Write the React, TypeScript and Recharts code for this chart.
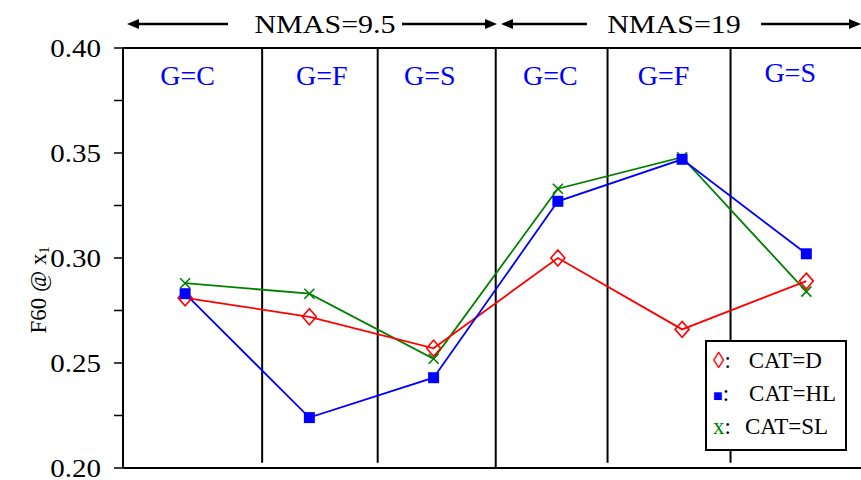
import { ComposedChart, Legend, Line, ReferenceDot, ReferenceLine, XAxis, YAxis } from 'recharts'

const GRADATIONS = ['G=C', 'G=F', 'G=S', 'G=C', 'G=F', 'G=S']
const CAT_D = [0.281, 0.272, 0.257, 0.3, 0.266, 0.289]
const CAT_HL = [0.283, 0.224, 0.243, 0.327, 0.347, 0.302]
const CAT_SL = [0.288, 0.283, 0.252, 0.333, 0.348, 0.284]
const Y_TICKS = [0.2, 0.225, 0.25, 0.275, 0.3, 0.325, 0.35, 0.375, 0.4]
const NMAS_GROUPS = ['NMAS=9.5', 'NMAS=19']

// x positions in category units (each category is one unit wide)
const DIVIDERS = [1.12, 2.05, 3.0, 3.9, 4.89]
const GRADATION_LABEL_X = [0.52, 1.6, 2.47, 3.44, 4.35, 5.37]

const SERIF = 'Liberation Serif'
const WIDTH = 861
const HEIGHT = 480
const LEFT = 123
const TOP = 48

const data = GRADATIONS.map((g, i) => ({
  x: i + 0.5,
  gradation: g,
  d: CAT_D[i],
  hl: CAT_HL[i],
  sl: CAT_SL[i],
}))

const DiamondDot = ({ cx, cy }: any) => (
  <path d={`M${cx},${cy - 8} L${cx + 7},${cy} L${cx},${cy + 8} L${cx - 7},${cy} Z`} fill="none" stroke="#ff0000" strokeWidth={1.6} />
)

const SquareDot = ({ cx, cy }: any) => <rect x={cx - 5.5} y={cy - 5.5} width={11} height={11} fill="#0000ff" />

const CrossDot = ({ cx, cy }: any) => (
  <g stroke="#008000" strokeWidth={1.6}>
    <line x1={cx - 5} y1={cy - 5} x2={cx + 5} y2={cy + 5} />
    <line x1={cx - 5} y1={cy + 5} x2={cx + 5} y2={cy - 5} />
  </g>
)

// numbers are a touch wide compared with the plain serif face
const YTick = ({ x, y, payload }: any) => {
  const v = payload.value
  const major = Math.abs(Math.round(v * 20) - v * 20) < 1e-6
  if (!major) return null
  return (
    <text transform={`translate(${x},${y}) scale(1.16,1)`} textAnchor="end" dy="0.35em" fontSize={25} fontFamily={SERIF} fill="#000">
      {v.toFixed(2)}
    </text>
  )
}

function Arrow({ from, to, y }: { from: number; to: number; y: number }) {
  const dir = to > from ? 1 : -1
  return (
    <g>
      <line x1={from} y1={y} x2={to - dir * 10} y2={y} stroke="#000" strokeWidth={2.5} />
      <path d={`M${to},${y} L${to - dir * 12},${y - 5} L${to - dir * 12},${y + 5} Z`} fill="#000" />
    </g>
  )
}

function Header() {
  return (
    <svg width={WIDTH} height={HEIGHT} style={{ position: 'absolute', left: 0, top: 0, pointerEvents: 'none' }}>
      <Arrow from={228} to={127} y={24} />
      <Arrow from={402} to={497} y={24} />
      <Arrow from={587} to={501} y={24} />
      <Arrow from={761} to={861} y={24} />
      <text transform="translate(325,33) scale(1.2,1)" textAnchor="middle" fontSize={25} fontFamily={SERIF} fill="#000">
        {NMAS_GROUPS[0]}
      </text>
      <text transform="translate(674,33) scale(1.2,1)" textAnchor="middle" fontSize={25} fontFamily={SERIF} fill="#000">
        {NMAS_GROUPS[1]}
      </text>
      <text transform="translate(46,290) rotate(-90)" textAnchor="middle" fontSize={23} fontFamily={SERIF} fill="#000">
        F60 @ x
        <tspan fontSize={14} dy={3}>
          1
        </tspan>
      </text>
    </svg>
  )
}

const legendRows = [
  { symbol: '◊', color: '#ff0000', label: 'CAT=D', gap: 24 },
  { symbol: '■', color: '#0000ff', label: 'CAT=HL', gap: 26 },
  { symbol: 'x', color: '#008000', label: 'CAT=SL', gap: 20 },
]

function LegendBox() {
  return (
    <div
      style={{
        width: 138,
        height: 105,
        border: '2px solid #000',
        background: '#fff',
        fontFamily: SERIF,
        fontSize: 23,
        color: '#000',
        paddingTop: 2,
        boxSizing: 'content-box',
      }}
    >
      {legendRows.map((row) => (
        <div key={row.label} style={{ height: 33, lineHeight: '33px', paddingLeft: 6, whiteSpace: 'nowrap' }}>
          <span style={{ color: row.color, fontSize: row.symbol === '■' ? 16 : 23 }}>{row.symbol}</span>
          <span>:</span>
          <span style={{ marginLeft: row.gap - 6 }}>{row.label}</span>
        </div>
      ))}
    </div>
  )
}

export default function App() {
  return (
    <div style={{ position: 'absolute', left: 0, top: 0, width: WIDTH, height: HEIGHT, background: '#fff' }}>
      <ComposedChart width={WIDTH} height={HEIGHT} data={data} margin={{ top: TOP, right: 0, bottom: 12, left: 0 }}>
        <XAxis dataKey="x" type="number" domain={[0, 5.94]} allowDataOverflow hide />
        <YAxis
          domain={[0.2, 0.4]}
          ticks={Y_TICKS}
          interval={0}
          width={LEFT}
          tickSize={9}
          tickMargin={13}
          axisLine={{ stroke: '#000', strokeWidth: 2 }}
          tickLine={{ stroke: '#000', strokeWidth: 1.5 }}
          tick={<YTick />}
        />
        <ReferenceLine y={0.4} stroke="#000" strokeWidth={2} />
        <ReferenceLine y={0.2} stroke="#000" strokeWidth={2} />
        {DIVIDERS.map((x, i) => (
          <ReferenceLine
            key={`div-${i}`}
            segment={[
              { x, y: 0.4 },
              { x, y: i === 2 ? 0.2 : 0.2025 },
            ]}
            stroke="#000"
            strokeWidth={2}
          />
        ))}
        {GRADATIONS.map((g, i) => (
          <ReferenceDot
            key={`lab-${i}`}
            x={GRADATION_LABEL_X[i]}
            y={i === 5 ? 0.3885 : 0.387}
            r={0}
            fill="none"
            stroke="none"
            label={{ value: g, position: 'center', fill: '#0000ff', fontSize: 28, fontFamily: SERIF }}
          />
        ))}
        <Line dataKey="sl" stroke="#008000" strokeWidth={1.8} dot={<CrossDot />} isAnimationActive={false} />
        <Line dataKey="d" stroke="#ff0000" strokeWidth={1.8} dot={<DiamondDot />} isAnimationActive={false} />
        <Line dataKey="hl" stroke="#0000ff" strokeWidth={1.8} dot={<SquareDot />} isAnimationActive={false} />
        <Legend
          layout="horizontal"
          verticalAlign="middle"
          align="center"
          content={() => <LegendBox />}
          wrapperStyle={{ left: 705, top: 340, width: 142, height: 109 }}
        />
      </ComposedChart>
      <Header />
    </div>
  )
}
